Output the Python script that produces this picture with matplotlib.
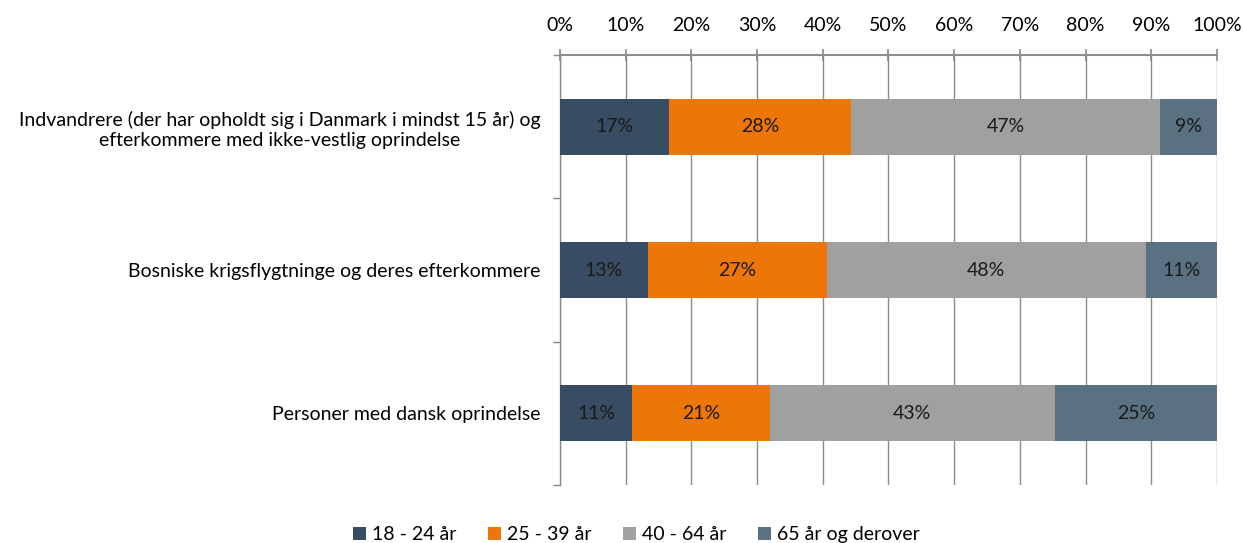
import matplotlib
matplotlib.use('Agg')
import matplotlib.pyplot as plt
import numpy as np

plt.rcParams['font.family'] = ['Lato', 'DejaVu Sans']

categories = [
    "Indvandrere (der har opholdt sig i Danmark i mindst 15 år) og\nefterkommere med ikke-vestlig oprindelse",
    "Bosniske krigsflygtninge og deres efterkommere",
    "Personer med dansk oprindelse",
]
series = ["18 - 24 år", "25 - 39 år", "40 - 64 år", "65 år og derover"]
values = [
    [16.6, 13.4, 11.0],   # 18 - 24
    [27.7, 27.2, 20.9],   # 25 - 39
    [47.0, 48.6, 43.4],   # 40 - 64
    [8.7, 10.8, 24.8],    # 65+
]
labels = [
    ["17%", "13%", "11%"],
    ["28%", "27%", "21%"],
    ["47%", "48%", "43%"],
    ["9%", "11%", "25%"],
]
colors = ["#384D63", "#EC7608", "#A0A0A0", "#5A7182"]

fs = 14
fig = plt.figure(figsize=(12.43, 5.43), dpi=100)
ax = fig.add_axes([0.4505, 0.107, 0.5285, 0.7915])

y = np.arange(len(categories))
left = np.zeros(len(categories))
for vals, labs, c, name in zip(values, labels, colors, series):
    bars = ax.barh(y, vals, left=left, height=0.39, color=c, label=name, zorder=3)
    for b, t in zip(bars, labs):
        ax.text(b.get_x() + b.get_width() / 2, b.get_y() + b.get_height() / 2, t,
                ha='center', va='center', fontsize=fs, color='#1a1a1a', zorder=4)
    left += np.array(vals)

ax.set_xlim(0, 100)
ax.set_ylim(2.5, -0.5)
ax.xaxis.tick_top()
ax.set_xticks(np.arange(0, 101, 10))
ax.set_xticklabels([f"{v}%" for v in range(0, 101, 10)], fontsize=fs)
ax.tick_params(axis='x', direction='inout', length=8, width=1.2, color='#888888', pad=11)
ax.grid(axis='x', color='#8c8c8c', lw=1, zorder=0)

ax.set_yticks(y)
ax.set_yticklabels(categories, fontsize=fs, multialignment='center')
ax.tick_params(axis='y', length=0, pad=14)
ax.set_yticks([-0.5, 0.5, 1.5, 2.5], minor=True)
ax.tick_params(axis='y', which='minor', length=5, width=1, color='#888888', direction='out')

for s in ['right', 'bottom']:
    ax.spines[s].set_visible(False)
ax.spines['top'].set_color('#8c8c8c')
ax.spines['top'].set_linewidth(1.5)
ax.spines['left'].set_color('#8c8c8c')
ax.spines['left'].set_linewidth(1)

fig.legend(loc='lower center', bbox_to_anchor=(0.512, -0.033), ncol=4, frameon=False,
           fontsize=fs, handlelength=0.7, handleheight=0.7, handletextpad=0.3, columnspacing=1.6)

plt.savefig("out.png")
